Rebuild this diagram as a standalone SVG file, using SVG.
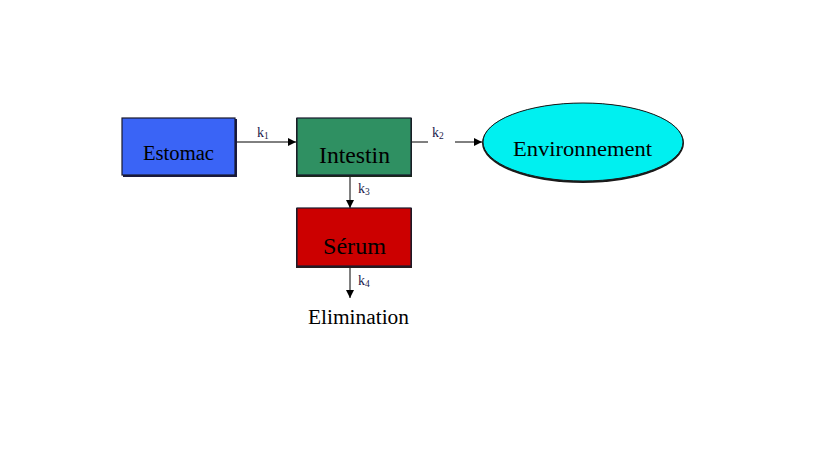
<svg xmlns="http://www.w3.org/2000/svg" width="819" height="460" viewBox="0 0 819 460">
<defs>
<style>
.box{stroke:#1a1a2e;stroke-width:1.2}
.lbl{font-family:"Liberation Serif","Times New Roman",serif;fill:#000;text-anchor:middle}
.k{font-family:"Liberation Serif","Times New Roman",serif;fill:#1a1a4a;font-size:14px}
.conn{stroke:#000;stroke-width:1;fill:none}
</style>
<marker id="arr" viewBox="0 0 10 10" refX="10" refY="5" markerWidth="8" markerHeight="8" markerUnits="userSpaceOnUse" orient="auto">
<path d="M0,0 L10,5 L0,10 z" fill="#000"/>
</marker>
</defs>
<rect width="819" height="460" fill="#fff"/>
<g id="connectors">
<line class="conn" x1="235" y1="142" x2="296" y2="142" marker-end="url(#arr)"/>
<line class="conn" x1="411" y1="142" x2="482" y2="142" marker-end="url(#arr)"/>
<line class="conn" x1="350" y1="176" x2="350" y2="208" marker-end="url(#arr)"/>
<line class="conn" x1="350" y1="267" x2="350" y2="298" marker-end="url(#arr)"/>
<text class="k" x="257" y="137">k<tspan font-size="9.5" dy="2">1</tspan></text>
<rect x="428" y="126" width="27" height="17" fill="#fff"/>
<text class="k" x="432" y="137">k<tspan font-size="9.5" dy="2">2</tspan></text>
<text class="k" x="358" y="193">k<tspan font-size="9.5" dy="2">3</tspan></text>
<text class="k" x="358" y="285">k<tspan font-size="9.5" dy="2">4</tspan></text>
</g>
<g id="estomac">
<rect x="123" y="119" width="114" height="58" fill="#1a1a40"/>
<rect class="box" x="122" y="118" width="113" height="57" fill="#3a64f6"/>
<text class="lbl" x="178.5" y="160" font-size="20" textLength="71" lengthAdjust="spacingAndGlyphs">Estomac</text>
</g>
<g id="intestin">
<rect x="296" y="118" width="116" height="59" fill="#1a2a1a"/>
<rect class="box" x="297" y="118" width="114" height="57" fill="#2f9062"/>
<text class="lbl" x="354.5" y="163" font-size="23" textLength="71" lengthAdjust="spacingAndGlyphs">Intestin</text>
</g>
<g id="environnement">
<ellipse cx="583" cy="143" rx="101" ry="40" fill="#1a1a1a"/>
<ellipse cx="583" cy="142" rx="100" ry="39" fill="#00f0f0" stroke="#1a1a1a" stroke-width="1"/>
<text class="lbl" x="582.5" y="156" font-size="21.5" textLength="139" lengthAdjust="spacingAndGlyphs">Environnement</text>
</g>
<g id="serum">
<rect x="296" y="208" width="116" height="60" fill="#2a1a1a"/>
<rect class="box" x="297" y="208" width="114" height="58" fill="#cc0000"/>
<text class="lbl" x="354.5" y="254" font-size="23" textLength="63" lengthAdjust="spacingAndGlyphs">Sérum</text>
</g>
<g id="elimination">
<text class="lbl" x="358.5" y="324" font-size="20" textLength="101" lengthAdjust="spacingAndGlyphs">Elimination</text>
</g>
</svg>
